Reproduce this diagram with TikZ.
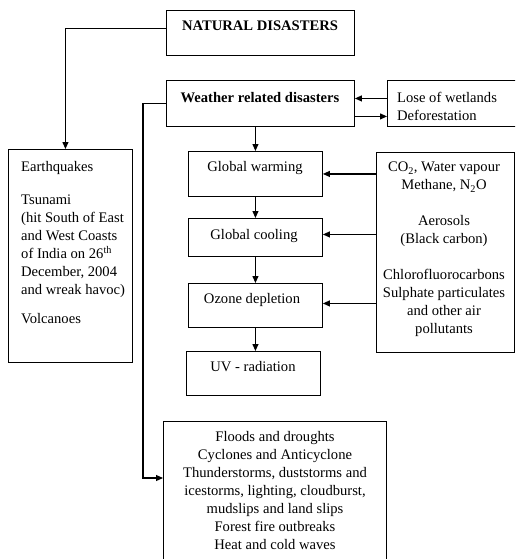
\documentclass[tikz,border=0pt]{standalone}
\usepackage{fontspec}
\setmainfont{Liberation Serif}
\usetikzlibrary{arrows.meta}
\begin{document}
\begin{tikzpicture}[x=1pt,y=-1pt,
 box/.style={draw, line width=0.9pt, inner sep=0pt, anchor=north west},
 txt/.style={inner sep=0pt, font=\fontsize{14.6}{18}\selectfont},
 conn/.style={line width=1.1pt, -{Triangle[length=7pt,width=6pt]}},
 plain/.style={line width=1.1pt}]
\useasboundingbox (0,0) rectangle (515,559);
\clip (0,0) rectangle (515,559);
% boxes
\node[box, minimum width=188pt, minimum height=45pt] (nat) at (166,10) {};
\node[box, minimum width=188pt, minimum height=46pt] (wx) at (166,80) {};
\node[box, minimum width=140pt, minimum height=46pt] (lose) at (387,80) {};
\node[box, minimum width=124pt, minimum height=213pt] (eq) at (8,149) {};
\node[box, minimum width=134pt, minimum height=45pt] (gw) at (188,151) {};
\node[box, minimum width=138pt, minimum height=200pt] (co2) at (376,152) {};
\node[box, minimum width=134pt, minimum height=38pt] (gc) at (188,218) {};
\node[box, minimum width=134pt, minimum height=44pt] (od) at (188,283) {};
\node[box, minimum width=134pt, minimum height=44pt] (uv) at (186,351) {};
\node[box, minimum width=223pt, minimum height=160pt] (bot) at (163,421) {};
% texts
\node[txt, anchor=north] (natt) at (260,21) {\textbf{NATURAL DISASTERS}};
\node[txt, anchor=north] (wxt) at (260,92) {\textbf{Weather related disasters}};
\node[txt, anchor=north west, align=left] (loset) at (397,92) {Lose of wetlands\\Deforestation};
\node[txt, anchor=north west, align=left] (eqt) at (21,161) {Earthquakes\\[15pt]Tsunami\\(hit South of East\\and West Coasts\\of India on 26\textsuperscript{th}\\December, 2004\\and wreak havoc)\\[11pt]Volcanoes};
\node[txt, anchor=north] (gwt) at (255,161) {Global warming};
\node[txt, anchor=north, align=center] (co2t) at (444,162) {CO\textsubscript{2}, Water vapour\\Methane, N\textsubscript{2}O\\[18pt]Aerosols\\(Black carbon)\\[18pt]Chlorofluorocarbons\\Sulphate particulates\\and other air\\pollutants};
\node[txt, anchor=north] (gct) at (254,229) {Global cooling};
\node[txt, anchor=north] (odt) at (252,293) {Ozone depletion};
\node[txt, anchor=north] (uvt) at (253,361) {UV - radiation};
\node[txt, anchor=north, align=center] (bott) at (275,431) {Floods and droughts\\Cyclones and Anticyclone\\Thunderstorms, duststorms and\\icestorms, lighting, cloudburst,\\mudslips and land slips\\Forest fire outbreaks\\Heat and cold waves};
% connectors
\draw[conn] ([yshift=4.5pt]nat.west) -| ([xshift=-5pt]eq.north);
\coordinate (bl) at (143,478);
\draw[conn] (wx.west) -| (bl) -- (bl -| bot.west);
\draw[conn] ([yshift=5pt]lose.west) -- ([yshift=5pt]wx.east);
\draw[conn] ([yshift=-13pt]wx.east) -- ([yshift=-13pt]lose.west);
\draw[conn] (gw.north |- wx.south) -- (gw.north);
\draw[conn] (gw.east -| co2.west) -- (gw.east);
\draw[conn] ([yshift=3pt]gc.east -| co2.west) -- ([yshift=3pt]gc.east);
\draw[conn] ([yshift=2pt]od.east -| co2.west) -- ([yshift=2pt]od.east);
\draw[conn] (gw.south) -- (gc.north);
\draw[conn] (gc.south) -- (od.north);
\draw[conn] (od.south) -- (od.south |- uv.north);
\end{tikzpicture}
\end{document}
